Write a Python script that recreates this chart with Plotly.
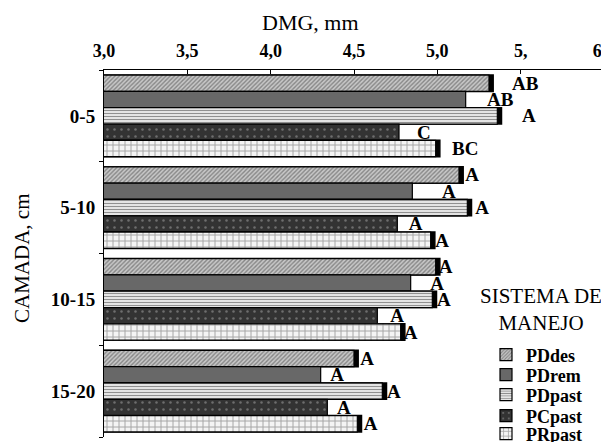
import plotly.graph_objects as go

camadas = ["0-5", "5-10", "10-15", "15-20"]
sistemas = ["PDdes", "PDrem", "PDpast", "PCpast", "PRpast"]

dmg = {
    "PDdes":  [5.31, 5.13, 4.99, 4.50],
    "PDrem":  [5.17, 4.85, 4.84, 4.30],
    "PDpast": [5.36, 5.18, 4.97, 4.67],
    "PCpast": [4.77, 4.76, 4.64, 4.34],
    "PRpast": [4.99, 4.96, 4.78, 4.52],
}
erro = {
    "PDdes":  [0.12, 0.02, 0.00, 0.02],
    "PDrem":  [0.11, 0.16, 0.10, 0.04],
    "PDpast": [0.13, 0.03, 0.01, 0.01],
    "PCpast": [0.09, 0.05, 0.06, 0.04],
    "PRpast": [0.08, 0.01, 0.00, 0.02],
}
letras = {
    "PDdes":  ["AB", "A", "A", "A"],
    "PDrem":  ["AB", "A", "A", "A"],
    "PDpast": ["A", "A", "A", "A"],
    "PCpast": ["C", "A", "A", "A"],
    "PRpast": ["BC", "A", "A", "A"],
}

x_ticks = [3.0, 3.5, 4.0, 4.5, 5.0, 5.5, 6.0]
x_ticktext = ["3,0", "3,5", "4,0", "4,5", "5,0", "5,", "6,0"]

estilos = {
    "PDdes":  dict(color="#b8b8b8", pattern=dict(shape="/", fgcolor="#444", bgcolor="#c8c8c8", size=3, solidity=0.45)),
    "PDrem":  dict(color="#686868"),
    "PDpast": dict(color="white", pattern=dict(shape="-", fgcolor="#222", bgcolor="white", size=3, solidity=0.5)),
    "PCpast": dict(color="#333", pattern=dict(shape=".", fgcolor="#aaa", bgcolor="#333333", size=7, solidity=0.1)),
    "PRpast": dict(color="white", pattern=dict(shape="+", fgcolor="#555", bgcolor="#f4f4f4", size=6, solidity=0.3)),
}
com_sombra = ["PDdes", "PDpast", "PRpast"]
SOMBRA = 0.025

FONT = "Liberation Serif"

# The page puts the figure 8 px in from the top-left corner of the window.
OFF = 8
W, H = 609 - OFF, 442 - OFF
L, T = 104 - OFF, 70 - OFF
R, B = 5, 5
pw, ph = W - L - R, H - T - B


def px_x(x):
    return (x - OFF - L) / pw


def px_y(y):
    return (H - B - (y - OFF)) / ph


legend_rows = [355, 375, 395, 416, 434]

fig = go.Figure()

for i, s in enumerate(sistemas):
    lg = "legend" if i == 0 else "legend%d" % (i + 1)
    if s in com_sombra:
        fig.add_trace(go.Bar(
            y=camadas, x=[v + SOMBRA for v in dmg[s]], orientation="h",
            offsetgroup=s, showlegend=False, hoverinfo="skip",
            marker=dict(color="black", line=dict(color="black", width=1.5)),
        ))
    st = estilos[s]
    marker = dict(color=st["color"], line=dict(color="black", width=1.2))
    if "pattern" in st:
        marker["pattern"] = st["pattern"]
    fig.add_trace(go.Bar(
        y=camadas, x=dmg[s], orientation="h", name="<b>%s</b>" % s,
        marker=marker, offsetgroup=s, legend=lg,
    ))
    fig.add_trace(go.Bar(
        y=camadas, x=[v + e for v, e in zip(dmg[s], erro[s])], orientation="h",
        offsetgroup=s, showlegend=False, hoverinfo="skip",
        marker=dict(color="rgba(0,0,0,0)", line=dict(width=0)),
        text=["<b>%s</b>" % t for t in letras[s]], textposition="outside",
        constraintext="none", cliponaxis=False,
        textfont=dict(family=FONT, size=19, color="black"),
    ))

legend_common = dict(xanchor="left", yanchor="middle",
                     font=dict(family=FONT, size=18, color="black"),
                     bgcolor="rgba(0,0,0,0)", itemwidth=30, borderwidth=0)
layout_legends = {}
for i, yrow in enumerate(legend_rows):
    key = "legend" if i == 0 else "legend%d" % (i + 1)
    layout_legends[key] = dict(x=px_x(486), y=px_y(yrow), **legend_common)

fig.update_layout(
    width=W, height=H,
    margin=dict(l=L, r=R, t=T, b=B, autoexpand=False),
    plot_bgcolor="white", paper_bgcolor="white",
    barmode="group", bargap=0.11, bargroupgap=0.0,
    font=dict(family=FONT, color="black"),
    showlegend=True,
    annotations=[
        dict(text="SISTEMA DE<br>MANEJO", x=px_x(541), y=px_y(309), xref="paper", yref="paper",
             showarrow=False, font=dict(family=FONT, size=21, color="black"),
             xanchor="center", yanchor="middle"),
        dict(text="DMG, mm", x=px_x(310), y=px_y(22), xref="paper", yref="paper",
             showarrow=False, font=dict(family=FONT, size=22, color="black"),
             xanchor="center", yanchor="middle"),
        dict(text="CAMADA, cm", x=px_x(22), y=px_y(258), xref="paper", yref="paper",
             showarrow=False, textangle=-90,
             font=dict(family=FONT, size=21, color="black"),
             xanchor="center", yanchor="middle"),
    ],
    **layout_legends,
)

fig.update_xaxes(
    side="top", range=[3, 6], tickvals=x_ticks,
    ticktext=["<b>%s</b>" % t for t in x_ticktext],
    tickfont=dict(family=FONT, size=18, color="black"),
    showline=True, linecolor="black", linewidth=1, ticks="inside", ticklen=4,
    tickcolor="black", showgrid=False, zeroline=False, automargin=False,
    ticklabelstandoff=5, ticklabeloverflow="allow",
)
fig.update_yaxes(
    autorange="reversed", showline=True, linecolor="black", linewidth=1,
    ticks="outside", ticklen=4, tickcolor="black", tickson="boundaries",
    tickvals=camadas, ticktext=["<b>%s</b>" % c for c in camadas],
    tickfont=dict(family=FONT, size=19, color="black"), showgrid=False,
    automargin=False, ticklabelstandoff=4,
)

fig.write_html("out.html")
